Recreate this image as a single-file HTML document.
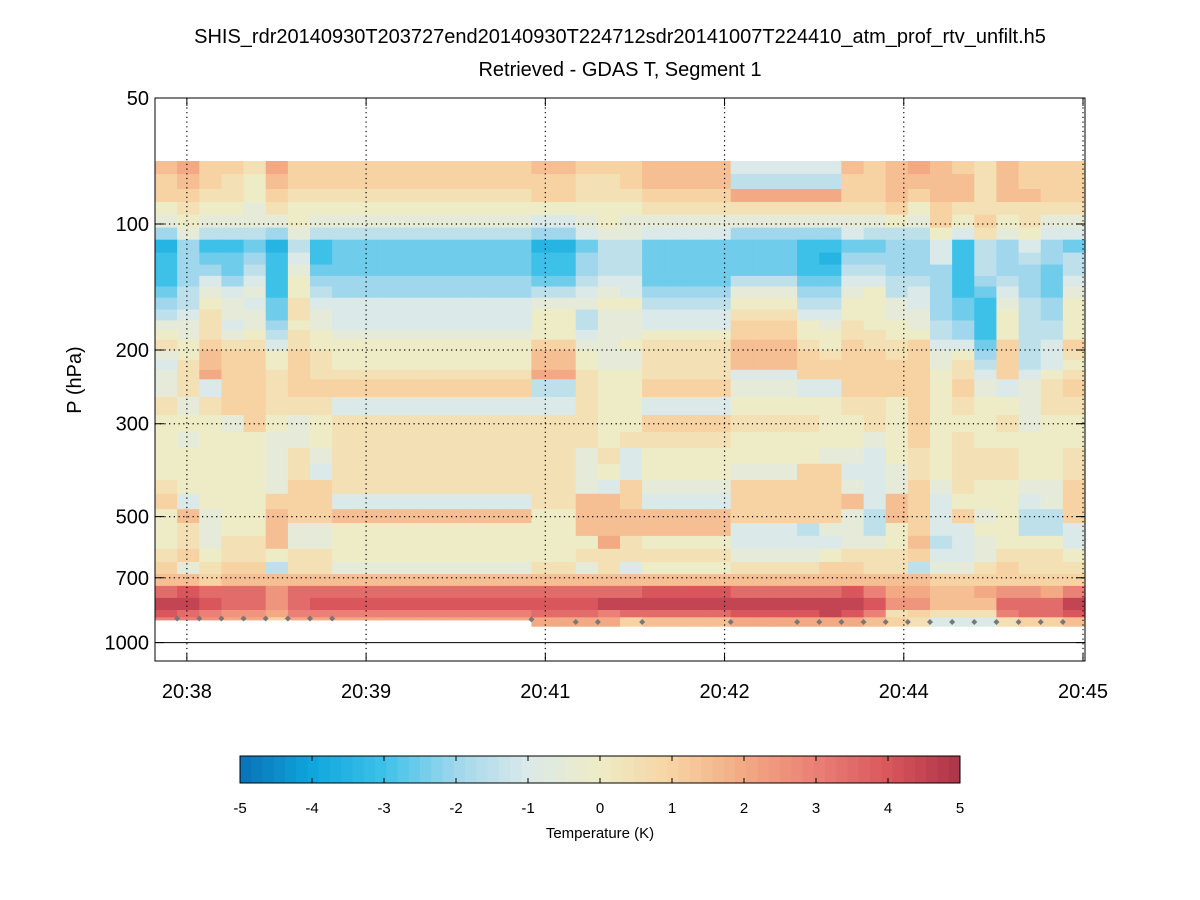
<!DOCTYPE html>
<html><head><meta charset="utf-8"><style>
html,body{margin:0;padding:0;background:#fff;}
svg{display:block;font-family:"Liberation Sans",sans-serif;}
</style></head><body>
<svg id="chart" width="1200" height="900" viewBox="0 0 1200 900" xmlns="http://www.w3.org/2000/svg">
<text x="620" y="43" text-anchor="middle" font-size="20">SHIS_rdr20140930T203727end20140930T224712sdr20141007T224410_atm_prof_rtv_unfilt.h5</text>
<text x="620" y="76" text-anchor="middle" font-size="20">Retrieved - GDAS T, Segment 1</text>
<g id="cells"></g>
<g id="grid"></g>
<g id="axes"></g>
<g id="cbar"></g>
<text transform="translate(81,380) rotate(-90)" text-anchor="middle" font-size="20">P (hPa)</text>
<text x="600" y="838" text-anchor="middle" font-size="15">Temperature (K)</text>
</svg>
<script>
// ---- data ----
const levelTops = [70.7,76,82.5,88.6,95,102,109,117,125,133,141,150,160,170,179,189,200,211,223,235,259,286,314,343,374,409,441,480,518,556,597,642,686,732,782,836,870];
const surfaceP = [882,882,882,882,882,882,882,882,882,882,882,882,882,882,882,882,882,913,913,913,913,913,913,913,913,913,913,913,913,913,913,913,913,913,913,913,913,913,913,913,913,913];
// compact rows: codes a..u = -5..+5 K step 0.5; group spans below
const groupSpans = [1,1,1,1,1,1,1,1,9,2,1,1, 1,4,3,1,1,1,1,1,1,1,1,1,1,1,1,1];
const rowCodes = [
"nommlommmnmmmniiinmnonmlnmmm",
"mnmlknmmmmllmnhhhmmnnnnlnmmm",
"mmllkmlllmlllmooommnmnnlnnmm",
"klkkjlkkkkkkkllllllmkmllllll",
"jkjjjjkjjijkjjjjjjjkjmkmkljj",
"gjhhhgjhhgijjigggihhhkiljkii",
"dgeefdhefdfhhffeeffggiehgigf",
"egffgeiefeghhffedggggiehghgh",
"eggfhejffeghhffeehhggge hggfh".replace(" ",""),
"egigiekggfhiifhffiihhgeghgfi",
"fhjijekhghijigjggjkhigefigfj",
"ghkjifliijjkkhkhhkkjigfejhgk",
"hiljjfljikhjjiliikkjjgfekhgk",
"jjlijgkjikhjjimkjlkkjhgekhhk",
"kjljkhlkjkijjkmkkllkkhgekhhk",
"lkmllilkkmjjklnlkmllmiifmhim",
"jknmmkmlknkjjlnmlmmlmjkgmhil",
"ilnmmkmlknkjjlnmmmmmmjlhmhik",
"jlommlmllolkklimmmmmmklimikl",
"jlimmlmmmhlkkmjiimmmmkmjijlm",
"ljlmmllliilkkikkkllkmklkkjll",
"kkkjmkjklllkkmllkklkmkkkljkk",
"kjkkkjjklllkllkkkkjkmklkkkkk",
"kkkkkjljlljlikkkjjiklklllkkl",
"kkkkkjlilljkikjmmiijlklllkkl",
"lkkkkjmmlljimjmmmjijmjlkkjjm",
"mikkkmmmilnnmimmmninmikkkijm",
"knjkknmmnknnnnmmmjhnmimjkhhm",
"kljkknjjkknnnnihjjhkmiikkhhi",
"kljllnjjkkkolkiiijjknhijkkki",
"lmkllkllkkll lljjklllmiijlllk".replace(" ",""),
"mjlmmhlljljlikllmmllhjjlmlll",
"nnmnnnnnnnnnnnnnnnnnnmmmmmmm",
"rsrrrprrrrrrrsrrrsqoonnoppoq",
"ttsrrprsssstttttttsppnnnrrrt",
"srqppoqqqrrqrrsstsqlmlllqrrs",
"qqpoomoooooomnoooonmliiilmmn"
];
const markerCols = [1,2,3,4,5,6,7,8,17,19,20,22,26,29,30,31,32,33,34,35,36,37,38,39,40,41];
const markerP = [876,876,876,876,876,876,876,876,880,893,893,893,893,893,893,893,893,893,893,893,893,893,893,893,893,893];
const xTickSecs = [0,90,180,270,360,450];
const xTickLabels = ["20:38","20:39","20:41","20:42","20:44","20:45"];
const yTicks = [50,100,200,300,500,700,1000];
const cbTicks = [-5,-4,-3,-2,-1,0,1,2,3,4,5];
const nCols = 42;

// ---- scales ----
const PL=155,PR=1085,PT=98,PB=661;
const tStart=-16, tEnd=451; // seconds relative to 20:38:00
const xT = s => PL + (s - tStart)/(tEnd - tStart)*(PR-PL);
const xCol = i => PL + i*(PR-PL)/nCols;
const yP = p => PT + Math.log10(p/50)*418.6;
const stops=[[-5,[8,114,182]],[-4,[15,166,221]],[-3,[61,193,233]],[-2,[160,215,236]],[-1,[219,233,233]],[0,[238,236,198]],[1,[247,211,163]],[2,[243,169,131]],[3,[234,128,118]],[4,[217,87,92]],[5,[172,51,73]]];
function color(v){
  v=Math.max(-5,Math.min(5,v));
  for(let i=0;i<stops.length-1;i++){
    const a=stops[i],b=stops[i+1];
    if(v<=b[0]){const f=(v-a[0])/(b[0]-a[0]);
      return 'rgb('+a[1].map((c,k)=>Math.round(c+(b[1][k]-c)*f)).join(',')+')';}
  }
  return 'rgb(172,51,73)';
}
function expand(code){let out=[];for(let g=0;g<groupSpans.length;g++)for(let r=0;r<groupSpans[g];r++)out.push(code[g]);return out;}
const NS='http://www.w3.org/2000/svg';
function mk(tag,attrs,parent){const e=document.createElementNS(NS,tag);for(const k in attrs)e.setAttribute(k,attrs[k]);parent.appendChild(e);return e;}

// ---- cells ----
const cells=document.getElementById('cells');
rowCodes.forEach((code,ri)=>{
  const vals=expand(code);
  for(let c=0;c<nCols;c++){
    const v=(vals[c].charCodeAt(0)-107)*0.5;
    const top=levelTops[ri];
    const bot=ri+1<levelTops.length?levelTops[ri+1]:surfaceP[c];
    const y0=yP(top),y1=yP(bot);
    const r=mk('rect',{x:xCol(c).toFixed(1),y:y0.toFixed(1),width:(xCol(c+1)-xCol(c)+0.6).toFixed(1),height:(y1-y0+0.6).toFixed(1),fill:color(v)},cells);
    
    
  }
});
// surface markers
markerCols.forEach((c,i)=>{
  const x=xCol(c),y=yP(markerP[i]);
  const m=mk('path',{d:`M${x-3},${y} L${x},${y-3} L${x+3},${y} L${x},${y+3} Z`,fill:'#777'},cells);
  
  
});

// ---- grid & axes ----
const grid=document.getElementById('grid'), axes=document.getElementById('axes');
xTickSecs.forEach((s,i)=>{
  const x=xT(s);
  const g=mk('line',{x1:x,x2:x,y1:PT,y2:PB,stroke:'#000','stroke-width':1.2,'stroke-dasharray':'1.2 3.5'},grid);
  
  
  mk('line',{x1:x,x2:x,y1:PB,y2:PB-8,stroke:'#000'},axes);
  mk('line',{x1:x,x2:x,y1:PT,y2:PT+8,stroke:'#000'},axes);
  const t=mk('text',{x:x,y:698,'text-anchor':'middle','font-size':20},axes);
  t.textContent=xTickLabels[i];
  
  
});
yTicks.forEach(p=>{
  const y=yP(p);
  if(p!==50&&p!==1000){
    const g=mk('line',{x1:PL,x2:PR,y1:y,y2:y,stroke:'#000','stroke-width':1.2,'stroke-dasharray':'1.2 3.5'},grid);
    
    
  }
  mk('line',{x1:PL,x2:PL+9,y1:y,y2:y,stroke:'#000'},axes);
  mk('line',{x1:PR,x2:PR-9,y1:y,y2:y,stroke:'#000'},axes);
  const t=mk('text',{x:149,y:y+7,'text-anchor':'end','font-size':20},axes);
  t.textContent=p;
  
  
});
const l1000=mk('line',{x1:PL,x2:PR,y1:yP(1000),y2:yP(1000),stroke:'#000','stroke-width':1},axes);


const frame=mk('rect',{x:PL,y:PT,width:PR-PL,height:PB-PT,fill:'none',stroke:'#000','stroke-width':1},axes);



// ---- colorbar ----
const cb=document.getElementById('cbar');
const CL=240,CR=960,CT=756,CB=783,N=64;
for(let i=0;i<N;i++){
  const v=-5+(i+0.5)*10/N;
  mk('rect',{x:CL+i*(CR-CL)/N,y:CT,width:(CR-CL)/N+0.5,height:CB-CT,fill:color(v)},cb);
}
mk('rect',{x:CL,y:CT,width:CR-CL,height:CB-CT,fill:'none',stroke:'#000'},cb);
const xc=v=>CL+(v+5)/10*(CR-CL);
cbTicks.forEach(v=>{
  const x=xc(v);
  mk('line',{x1:x,x2:x,y1:CT,y2:CT+5,stroke:'#000'},cb);
  mk('line',{x1:x,x2:x,y1:CB,y2:CB-5,stroke:'#000'},cb);
  const t=mk('text',{x:x,y:813,'text-anchor':'middle','font-size':15},cb);
  t.textContent=v;
  
  
});
</script>
</body></html>
